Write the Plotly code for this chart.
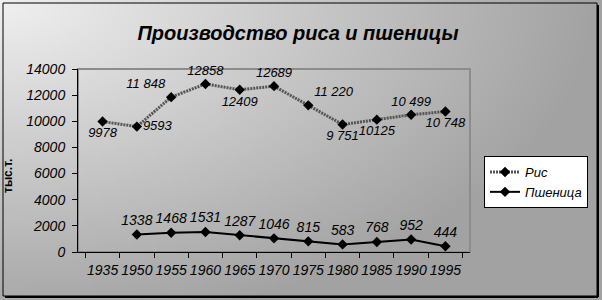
import base64, struct, zlib, math
import plotly.graph_objects as go

years = ["1935", "1950", "1955", "1960", "1965", "1970", "1975", "1980", "1985", "1990", "1995"]
rice = [9978, 9593, 11848, 12858, 12409, 12689, 11220, 9751, 10125, 10499, 10748]
rice_labels = ["9978", "9593", "11 848", "12858", "12409", "12689", "11 220", "9 751", "10125", "10 499", "10 748"]
rice_pos = ["bottom center", "middle right", "top left", "top center", "bottom center", "top center",
            "top right", "bottom center", "bottom center", "top center", "bottom center"]
wheat = [None, 1338, 1468, 1531, 1287, 1046, 815, 583, 768, 952, 444]
wheat_labels = ["", "1338", "1468", "1531", "1287", "1046", "815", "583", "768", "952", "444"]

W, H = 602, 300
L, R, T, B = 78, 470, 69, 252
pw, ph = R - L, B - T


def make_png(w, h):
    rows = []
    for j in range(h):
        row = bytearray([0])
        for i in range(w):
            x = i / (w - 1)
            y = j / (h - 1)
            d = math.sqrt(x * x + 0.8 * y * y)
            v = int(240 - 78 * min(1.0, d))
            row.append(v)
        rows.append(bytes(row))
    raw = b"".join(rows)

    def chunk(tag, data):
        c = struct.pack(">I", len(data)) + tag + data
        return c + struct.pack(">I", zlib.crc32(tag + data) & 0xffffffff)
    png = b"\x89PNG\r\n\x1a\n" + chunk(b"IHDR", struct.pack(">IIBBBBB", w, h, 8, 0, 0, 0, 0))
    png += chunk(b"IDAT", zlib.compress(raw, 9)) + chunk(b"IEND", b"")
    return "data:image/png;base64," + base64.b64encode(png).decode()


def px(xp):
    return (xp - L) / pw


def py(yp):
    return (B - yp) / ph


font_lbl = dict(family="Liberation Sans, Arial", size=13, color="black", style="italic")
font_tick = dict(family="Liberation Sans, Arial", size=14, color="black", style="italic")

fig = go.Figure()
fig.add_trace(go.Scatter(
    x=years, y=rice, name="Рис", mode="lines+markers+text",
    line=dict(color="#555555", width=3, dash="2px,1px"),
    marker=dict(symbol="diamond", size=8, color="black"),
    text=rice_labels, textposition=rice_pos, textfont=font_lbl, cliponaxis=False,
))
fig.add_trace(go.Scatter(
    x=years, y=wheat, name="Пшеница", mode="lines+markers+text",
    line=dict(color="black", width=2),
    marker=dict(symbol="diamond", size=8, color="black"),
    text=wheat_labels, textposition="top center",
    textfont=dict(family="Liberation Sans, Arial", size=14, color="black", style="italic"),
    cliponaxis=False,
))

fig.update_layout(
    width=W, height=H,
    margin=dict(l=L, r=W - R, t=T, b=H - B),
    paper_bgcolor="#c8c8c8",
    plot_bgcolor="white",
    title=dict(text="Производство риса и пшеницы", x=0.495, xanchor="center", y=1 - 33 / H, yanchor="middle",
               font=dict(family="Liberation Sans, Arial", size=20, color="black", weight="bold", style="italic")),
    xaxis=dict(type="category", showgrid=False, showline=True, linecolor="black", linewidth=1,
               ticks="outside", tickson="boundaries", ticklen=5, tickcolor="black", tickangle=0,
               ticklabelstandoff=5, tickfont=font_tick, zeroline=False),
    yaxis=dict(range=[0, 14000], dtick=2000, tickformat="d", showgrid=False, showline=True,
               linecolor="black", linewidth=1, ticklabelstandoff=4,
               ticks="outside", ticklen=5, tickcolor="black", zeroline=False, tickfont=font_tick),
    legend=dict(x=px(484), y=py(156), xanchor="left", yanchor="top", bgcolor="white",
                bordercolor="black", borderwidth=1, font=font_lbl, tracegroupgap=2),
    showlegend=True,
    images=[dict(source=make_png(150, 75), xref="paper", yref="paper", x=px(0), y=py(0),
                 sizex=W / pw, sizey=H / ph, sizing="stretch", xanchor="left", yanchor="top", layer="below")],
    shapes=[
        dict(type="rect", xref="paper", yref="paper", x0=0, x1=1, y0=0, y1=1,
             line=dict(color="#8c8c8c", width=2), layer="below"),
        dict(type="rect", xref="paper", yref="paper", x0=px(3), x1=px(597), y0=py(296), y1=py(3),
             line=dict(color="black", width=1)),
        dict(type="line", xref="paper", yref="paper", x0=px(598), x1=px(598), y0=py(297), y1=py(5),
             line=dict(color="black", width=2)),
        dict(type="line", xref="paper", yref="paper", x0=px(5), x1=px(598), y0=py(297), y1=py(297),
             line=dict(color="black", width=2)),
    ],
    annotations=[dict(text="тыс.т.", xref="paper", yref="paper", x=px(8), y=py(176), textangle=-90,
                      showarrow=False, xanchor="center", yanchor="middle",
                      font=dict(family="Liberation Sans, Arial", size=12, color="black", weight="bold"))],
)

fig.write_html("out.html")
